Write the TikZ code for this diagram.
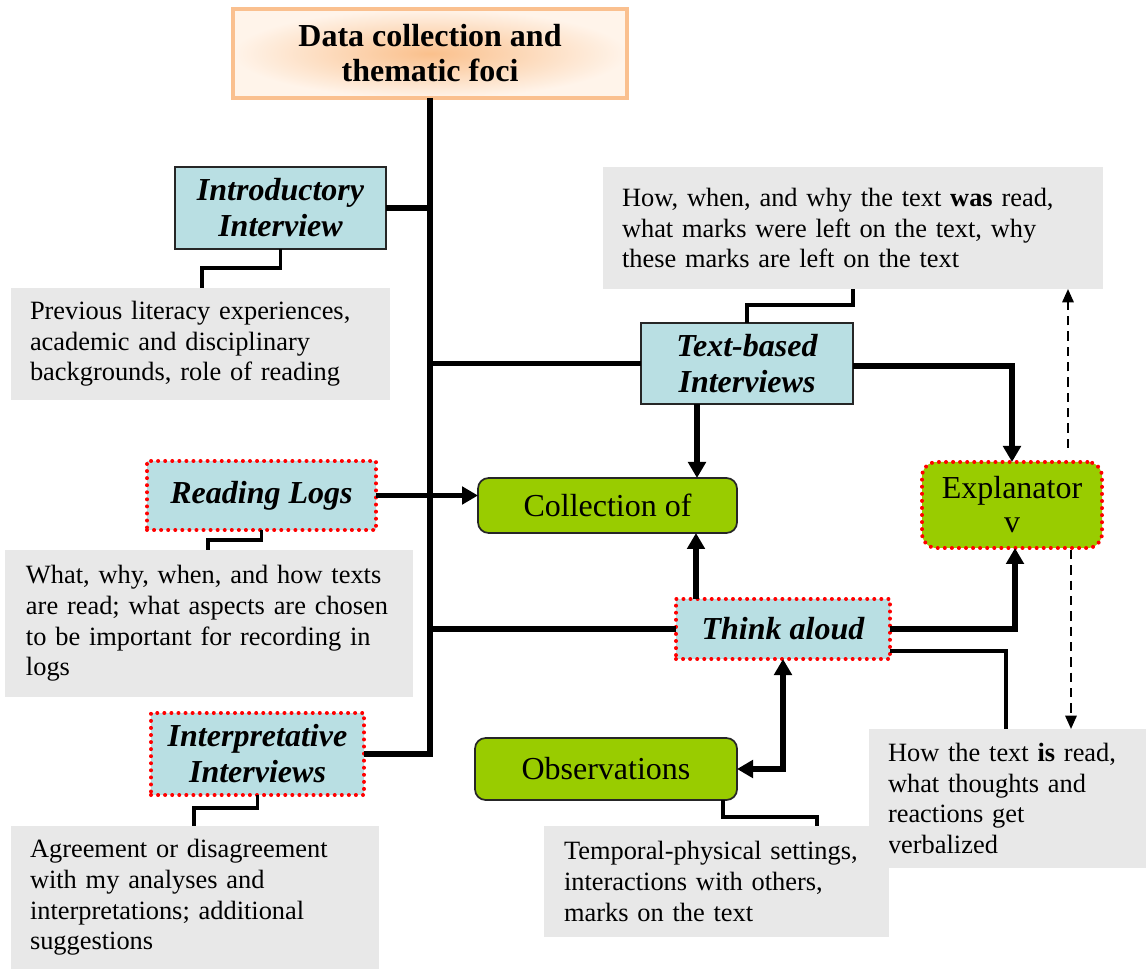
\documentclass[tikz,border=0pt]{standalone}
\usepackage{fontspec}
\setmainfont{Liberation Serif}
\usetikzlibrary{arrows.meta}

\definecolor{aquafill}{RGB}{185,223,227}
\definecolor{leaf}{RGB}{153,204,0}
\definecolor{notegrey}{RGB}{232,232,232}
\definecolor{peach}{RGB}{250,192,143}
\definecolor{peachcore}{RGB}{250,192,140}
\definecolor{peachlight}{RGB}{255,244,234}

\newcommand{\notefont}{\fontsize{19.8}{23}\selectfont}
\newcommand{\labelfont}{\fontsize{24}{27}\selectfont\bfseries\itshape}

\tikzset{
  every node/.style={inner sep=0pt, outer sep=0pt},
  method/.style n args={2}{fill=aquafill, align=center, font=\labelfont,
    minimum width=#1, minimum height=#2},
  solidedge/.style={draw=black!85, line width=1.1pt},
  dotedge/.style={draw=red, line width=3pt, dash pattern=on 0pt off 5.3pt, line cap=round},
  outcome/.style n args={2}{fill=leaf, rounded corners=8pt, align=center,
    font=\fontsize{24}{25.5}\selectfont, minimum width=#1, minimum height=#2},
  greynote/.style n args={3}{fill=notegrey, align=left, font=\notefont,
    minimum width=#1, minimum height=#2, text width=#3, inner xsep=14.25pt},
  trunkline/.style={line width=4.2pt},
  thickarrow/.style={line width=4.2pt, -{Triangle[length=12pt,width=13pt]}},
  twoway/.style={line width=4.2pt, {Triangle[length=12pt,width=13pt]}-{Triangle[length=12pt,width=13pt]}},
  thinlink/.style={line width=2.3pt},
  dashlink/.style={line width=1.5pt, dash pattern=on 7pt off 4.5pt, -{Triangle[length=10pt,width=8.5pt]}}
}

\begin{document}
\begin{tikzpicture}[x=0.75pt, y=-0.75pt]
\useasboundingbox (0,0) rectangle (1146,969);

% title box
\node[draw=peach, line width=3.5pt, inner color=peachcore, outer color=peachlight,
      minimum width=295.5pt, minimum height=66.75pt, align=center,
      font=\fontsize{24}{26.25}\selectfont\bfseries] (top) at (430,53.5)
      {Data collection and\\thematic foci};

% data sources
\node[method={158.25pt}{61.5pt}, solidedge] (intro) at (280.5,208) {Introductory\\Interview};
\node[method={159pt}{60.75pt}, solidedge] (tb) at (747,363.5) {Text-based\\Interviews};
\node[method={171.75pt}{51.75pt}, dotedge] (rl) at (261.5,495.5) {Reading Logs};
\node[method={160.5pt}{45pt}, dotedge] (ta) at (783,629) {Think aloud};
\node[method={159.75pt}{61.5pt}, dotedge] (ii) at (257.5,754) {Interpretative\\Interviews};

% outcomes
\node[outcome={194.25pt}{41.25pt}, draw=black!85, line width=1.3pt] (coll) at (607.5,505.5) {Collection of};
\node[outcome={135pt}{64.5pt}, rounded corners=11pt, dotedge] (exp) at (1012,505) {Explanator\\v};
\node[outcome={196.5pt}{46.5pt}, draw=black!85, line width=1.3pt] (obs) at (606,769) {Observations};

% thematic foci notes
\node[greynote={284.25pt}{84pt}{255.75pt}] (g1) at (200.5,344)
  {Previous literacy experiences,\\academic and disciplinary\\backgrounds, role of reading};
\node[greynote={375pt}{91.5pt}{346.5pt}] (g2) at (853,228)
  {How, when, and why the text \textbf{was} read,\\what marks were left on the text, why\\these marks are left on the text};
\node[greynote={303pt}{110.25pt}{274.5pt}, inner xsep=15.5pt] (g3) at (209,623.5)
  {What, why, when, and how texts\\are read; what aspects are chosen\\to be important for recording in\\logs};
\node[greynote={207.75pt}{104.25pt}{179.25pt}] (g4) at (1007.5,798.5)
  {How the text \textbf{is} read,\\what thoughts and\\reactions get\\verbalized};
\node[greynote={257.25pt}{83.25pt}{228.75pt}, inner xsep=15pt] (g5) at (716.5,881.5)
  {Temporal-physical settings,\\interactions with others,\\marks on the text};
\node[greynote={276pt}{107.25pt}{247.5pt}] (g6) at (195,897.5)
  {Agreement or disagreement\\with my analyses and\\interpretations; additional\\suggestions};

% helper positions for connector bends
\coordinate (tbdrop) at (697,0);
\coordinate (tarise) at (696,0);
\coordinate (expin) at (1015,0);
\coordinate (thinrow) at (0,651);
\coordinate (g4in) at (1006,0);
\coordinate (introjog) at (0,268);
\coordinate (g1in) at (202,0);
\coordinate (rljog) at (0,540);
\coordinate (g3in) at (208,0);
\coordinate (iijog) at (0,808);
\coordinate (g6in) at (194,0);
\coordinate (tbjog) at (0,305);
\coordinate (obsdrop) at (723,0);
\coordinate (obsjog) at (0,817);
\coordinate (g5in) at (817,0);
\coordinate (dashup) at (1068,448);
\coordinate (dashdown) at (1071,550);

% trunk and branches
\draw[trunkline] (top.south) |- (ii.east);
\draw[trunkline] (intro.east) -- (intro.east -| top.south);
\draw[trunkline] (tb.west) -- (tb.west -| top.south);
\draw[trunkline] (ta.west) -- (ta.west -| top.south);

% flows into outcomes
\draw[thickarrow] (rl.east) -- (rl.east -| coll.west);
\draw[thickarrow] (tbdrop |- tb.south) -- (tbdrop |- coll.north);
\draw[thickarrow] (tarise |- ta.north) -- (tarise |- coll.south);
\draw[thickarrow] ([yshift=-2pt]tb.east) -| (exp.north);
\draw[thickarrow] (ta.east) -| (expin |- exp.south);
\draw[twoway] (obs.east) -| (ta.south);

% links to notes
\draw[thinlink] (intro.south) -- (intro.south |- introjog) -| (g1in |- g1.north);
\draw[thinlink] (rl.south) -- (rl.south |- rljog) -| (g3in |- g3.north);
\draw[thinlink] (ii.south) -- (ii.south |- iijog) -| (g6in |- g6.north);
\draw[thinlink] (tb.north) -- (tb.north |- tbjog) -| (g2.south);
\draw[thinlink] (obsdrop |- obs.south) -- (obsdrop |- obsjog) -| (g5in |- g5.north);
\draw[thinlink] (ta.east |- thinrow) -| (g4in |- g4.north);

% dashed links from the explanatory outcome
\draw[dashlink] (dashup) -- (dashup |- g2.south);
\draw[dashlink] (dashdown) -- (dashdown |- g4.north);
\end{tikzpicture}
\end{document}
